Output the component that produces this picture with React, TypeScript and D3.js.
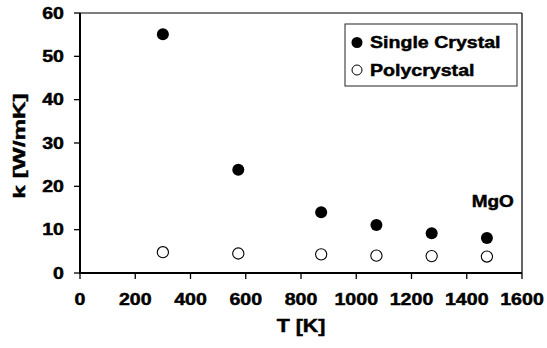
import React from "react";
import * as d3 from "d3";

const temps = [300, 573, 873, 1073, 1273, 1473];
const singleCrystal = [55.1, 23.8, 14.0, 11.1, 9.2, 8.1];
const polycrystal = [4.8, 4.5, 4.3, 4.0, 3.9, 3.8];
const xTicks = [0, 200, 400, 600, 800, 1000, 1200, 1400, 1600];
const yTicks = [0, 10, 20, 30, 40, 50, 60];
const legendLabels = ["Single Crystal", "Polycrystal"];

const W = 547, H = 348;
const L = 80, R = 522, T = 13, B = 273;
const FONT = "'Liberation Sans', Arial, Helvetica, sans-serif";
const SX = 1.24;

function ST({ x, y, anchor = "start", size = 15.8, sx = SX, rot = 0, dy, children }: any) {
  return (
    <text
      transform={`translate(${x},${y}) rotate(${rot}) scale(${sx},1)`}
      textAnchor={anchor}
      fontSize={size}
      dy={dy}
      fontWeight="bold"
      fill="#000"
      stroke="#000"
      strokeWidth={0.45}
    >
      {children}
    </text>
  );
}

export default function App() {
  const x = d3.scaleLinear().domain([0, 1600]).range([L, R]);
  const y = d3.scaleLinear().domain([0, 60]).range([B, T]);
  return (
    <svg width={W} height={H} style={{ position: "absolute", left: 0, top: 0, background: "#fff" }} fontFamily={FONT}>
      <rect x={0} y={0} width={W} height={H} fill="#fff" />
      <line x1={L} x2={R} y1={T} y2={T} stroke="#000" strokeWidth={1.2} />
      <line x1={R} x2={R} y1={T} y2={B} stroke="#000" strokeWidth={1.2} />
      <line x1={L} x2={L} y1={T} y2={B + 1} stroke="#000" strokeWidth={2} />
      <line x1={L - 1} x2={R} y1={B} y2={B} stroke="#000" strokeWidth={2} />
      {yTicks.map((t) => (
        <g key={"y" + t}>
          <line x1={L - 6} x2={L} y1={y(t)} y2={y(t)} stroke="#000" strokeWidth={1.3} />
          <ST x={64} y={y(t)} dy="0.36em" anchor="end">{t}</ST>
        </g>
      ))}
      {xTicks.map((t) => (
        <g key={"x" + t}>
          <line x1={x(t)} x2={x(t)} y1={B} y2={B + 6} stroke="#000" strokeWidth={1.3} />
          <ST x={x(t)} y={305} anchor="middle">{t}</ST>
        </g>
      ))}
      <ST x={(L + R) / 2} y={332} anchor="middle" size={17.5} sx={1.22}>T [K]</ST>
      <ST x={25} y={146} anchor="middle" size={17} sx={1.43} rot={-90}>k [W/mK]</ST>
      {temps.map((t, i) => (
        <circle key={"s" + i} cx={x(t)} cy={y(singleCrystal[i])} r={6} fill="#000" />
      ))}
      {temps.map((t, i) => (
        <circle key={"p" + i} cx={x(t)} cy={y(polycrystal[i])} r={5.6} fill="#fff" stroke="#000" strokeWidth={1.1} />
      ))}
      <ST x={x(1418)} y={y(15.2)} size={15.8} sx={1.2}>MgO</ST>
      <rect x={345} y={24} width={172} height={62} fill="#fff" stroke="#222" strokeWidth={1} />
      <circle cx={357} cy={42.5} r={5.5} fill="#000" />
      <ST x={370} y={42.5} dy="0.36em">{legendLabels[0]}</ST>
      <circle cx={357} cy={70} r={5} fill="#fff" stroke="#000" strokeWidth={1} />
      <ST x={370} y={70} dy="0.36em">{legendLabels[1]}</ST>
    </svg>
  );
}
